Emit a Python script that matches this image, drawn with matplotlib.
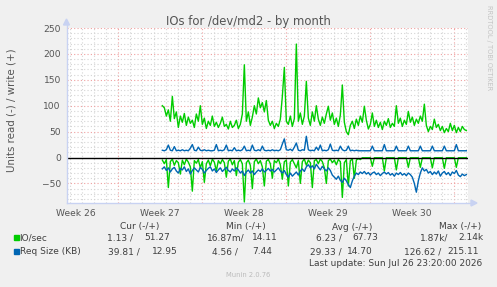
import numpy as np
import matplotlib.pyplot as plt

# time axis in days (day 0 = start of week 27), one sample every 4 hours
t_start = 3.67
t_step = 1 / 6

io_write = [100, 96, 80, 92, 70, 118, 75, 88, 58, 80, 68, 85, 62, 78, 66,
            72, 58, 84, 70, 100, 64, 76, 56, 70, 62, 80, 60, 68,
            58, 66, 78, 60, 64, 55, 70, 58, 62, 72, 56, 64, 84, 179,
            70, 88, 62, 78, 100, 84, 115, 96, 106, 88, 110, 72, 62, 70,
            56, 66, 60, 74, 118, 174, 70, 64, 80, 60, 75, 219, 70, 86,
            64, 80, 147, 76, 62, 88, 70, 100, 74, 62, 78, 66, 84, 99,
            72, 86, 64, 76, 60, 82, 140, 68, 50, 44, 62, 70, 56, 74,
            62, 80, 68, 99, 72, 55, 64, 86, 60, 72, 58, 68, 54, 70,
            62, 75, 58, 66, 60, 100, 66, 76, 60, 72, 64, 89, 68, 78,
            62, 74, 66, 80, 70, 103, 62, 50, 60, 54, 74, 58, 64, 52,
            60, 48, 56, 50, 66, 52, 62, 48, 58, 50, 60, 54, 52]

io_read = [-5, -12, -4, -58, -8, -3, -15, -6, -10, -32, -5, -14, -3, -9, -18,
           -65, -6, -11, -4, -20, -8, -48, -12, -5, -16, -3, -9, -26,
           -6, -12, -4, -10, -38, -7, -3, -14, -6, -35, -9, -4, -12, -86,
           -10, -5, -15, -60, -8, -3, -12, -6, -18, -55, -7, -4, -12, -40,
           -6, -10, -3, -14, -42, -8, -5, -55, -9, -4, -12, -20, -6, -50,
           -8, -3, -15, -5, -10, -58, -6, -4, -12, -3, -8, -20, -50, -6,
           -3, -10, -5, -14, -4, -8, -77, -10, -4, -55, -6, -3, -40, -5,
           -2, -4, -0.5, -0.5, -0.5, -0.5, -0.5, -17, -0.5, -0.5, -0.5, -0.5,
           -0.5, -26, -0.5, -0.5, -0.5, -0.5, -0.5, -24, -0.5, -0.5, -0.5, -0.5,
           -0.5, -19, -0.5, -0.5, -0.5, -0.5, -0.5, -19, -0.5, -0.5, -0.5, -0.5,
           -0.5, -20, -0.5, -0.5, -0.5, -0.5, -0.5, -21, -0.5, -0.5, -0.5, -0.5,
           -0.5, -19, -0.5, -0.5, -0.5, -0.5, -0.5]

req_write = [14, 13, 15, 24, 14, 13, 21, 13, 14, 13, 15, 13, 14, 13, 18,
             25, 14, 13, 20, 14, 13, 15, 13, 14, 13, 13, 14, 25,
             13, 14, 13, 15, 24, 13, 14, 13, 19, 13, 14, 13, 15, 22,
             13, 14, 13, 24, 14, 13, 15, 13, 22, 14, 13, 14, 13, 15,
             13, 14, 13, 15, 26, 36, 15, 14, 16, 13, 20, 28, 14, 13,
             15, 14, 41, 15, 13, 14, 13, 20, 14, 24, 13, 14, 13, 15,
             26, 14, 13, 14, 13, 22, 15, 13, 14, 22, 13, 14, 13, 14,
             13, 13, 13, 13, 13, 13, 13, 22, 13, 13, 13, 13,
             13, 25, 13, 13, 13, 13, 13, 22, 13, 13, 13, 13,
             13, 22, 13, 13, 13, 13, 13, 22, 13, 13, 13, 13,
             13, 22, 13, 13, 13, 13, 13, 22, 13, 13, 13, 13,
             13, 25, 13, 13, 13, 13, 13]

req_read = [-22, -18, -25, -20, -28, -22, -19, -26, -30, -21, -24, -18, -27, -22, -32,
            -25, -20, -24, -28, -19, -23, -30, -25, -21, -18, -26, -22, -29,
            -24, -20, -27, -23, -19, -25, -28, -22, -26, -20, -24, -30, -26, -35,
            -28, -24, -30, -26, -33, -28, -24, -27, -22, -28, -25, -21, -26, -23,
            -28, -24, -20, -26, -30, -25, -33, -38, -30, -36, -32, -28, -34, -26,
            -22, -27, -18, -14, -20, -16, -22, -13, -19, -24, -17, -22, -26, -20,
            -25, -34, -38, -42, -36, -44, -48, -40, -45, -52, -58, -45, -36, -30,
            -33, -28, -31, -27, -32, -29, -34, -30, -28, -33, -30, -35, -31, -28,
            -32, -29, -34, -31, -36, -30, -33, -29, -34, -31, -35, -30, -33, -38,
            -50, -67, -45, -30, -20, -26, -23, -30, -27, -33, -28, -32, -26, -36,
            -30, -27, -33, -29, -35, -28, -31, -25, -34, -37, -32, -35, -33]

week_pos = [-3.5, 3.5, 10.5, 17.5, 24.5]
week_labels = ['Week 26', 'Week 27', 'Week 28', 'Week 29', 'Week 30']

headers = ['Cur (-/+)', 'Min (-/+)', 'Avg (-/+)', 'Max (-/+)']
io_vals = ['1.13 /', '51.27', '16.87m/', '14.11', '6.23 /', '67.73', '1.87k/', '2.14k']
req_vals = ['39.81 /', '12.95', '4.56 /', '7.44', '29.33 /', '14.70', '126.62 /', '215.11']

green = '#00CC00'
blue = '#0066B3'
txt = '#555555'

W, H = 497, 287
fig = plt.figure(figsize=(W / 100, H / 100), dpi=100, facecolor='#F0F0F0')


def fx(x):
    return x / W


def fy(y):
    return 1 - y / H


left, right, top, bottom = 66.5, 468.3, 28, 203
ax = fig.add_axes([fx(left), fy(bottom), fx(right - left), (bottom - top) / H])
ax.set_facecolor('white')
x0 = (left - 118.3) / 12
x1 = (right - 118.3) / 12
ymax = 250
ymin = -(bottom - 157.5) / ((157.5 - top) / 250)
ax.set_xlim(x0, x1)
ax.set_ylim(ymin, ymax)
for s in ax.spines.values():
    s.set_visible(False)
ax.tick_params(length=0, labelsize=6.6, colors=txt, pad=4)

# grid
for d in range(-4, 30):
    if d % 7 == 0:
        ax.axvline(d, color='#EFA0A0', lw=0.8, ls=(0, (1, 2)), zorder=1)
    else:
        ax.axvline(d, color='#D4D4D4', lw=0.8, ls=(0, (1, 2)), zorder=1)
for v in range(-80, 251, 10):
    if v == 0:
        continue
    if v % 50 == 0:
        ax.axhline(v, color='#EFA0A0', lw=0.8, ls=(0, (1, 2)), zorder=1)
    else:
        ax.axhline(v, color='#D4D4D4', lw=0.8, ls=(0, (1, 2)), zorder=1)

t = t_start + np.arange(len(io_write)) * t_step
ax.plot(t, io_write, color=green, lw=1.0, zorder=3)
ax.plot(t, io_read, color=green, lw=1.0, zorder=3)
ax.plot(t, req_write, color=blue, lw=1.0, zorder=4)
ax.plot(t, req_read, color=blue, lw=1.0, zorder=4)
ax.axhline(0, color='black', lw=1.0, zorder=5)

ax.set_yticks(range(-50, 251, 50))
ax.set_xticks(week_pos)
ax.set_xticklabels(week_labels)

# axis arrows
acol = '#C8D2F2'
fig.add_artist(plt.Line2D([fx(left), fx(left)], [fy(bottom), fy(24)], color=acol, lw=1))
fig.add_artist(plt.Line2D([fx(left), fx(472)], [fy(bottom), fy(bottom)], color=acol, lw=1))
fig.add_artist(plt.Polygon([[fx(63.5), fy(25)], [fx(69.5), fy(25)], [fx(66.5), fy(19)]],
                           closed=True, color=acol))
fig.add_artist(plt.Polygon([[fx(471), fy(200)], [fx(471), fy(206)], [fx(477), fy(203)]],
                           closed=True, color=acol))

fig.text(fx(248), fy(21), 'IOs for /dev/md2 - by month', ha='center', va='center',
         fontsize=8.4, color=txt)
fig.text(fx(12), fy(110), 'Units read (-) / write (+)', rotation=90, ha='center',
         va='center', fontsize=7.4, color=txt)
fig.text(fx(489), fy(5), 'RRDTOOL / TOBI OETIKER', rotation=270, ha='center',
         va='top', fontsize=4.8, color='#C4C4C4')

# legend
lcol = '#404040'
for xc, h in zip([140, 246, 352, 460], headers):
    fig.text(fx(xc), fy(227), h, ha='center', va='center', fontsize=6.5, color=lcol)

rights = [133, 170, 245, 278, 342, 378, 448, 483]
rights2 = [140, 178, 238, 272, 342, 373, 441, 479]
fig.add_artist(plt.Rectangle((fx(13.5), fy(240)), 5 / W, 5 / H, color=green))
fig.add_artist(plt.Rectangle((fx(13.5), fy(254)), 5 / W, 5 / H, color=blue))
fig.text(fx(19.5), fy(238), 'IO/sec', ha='left', va='center', fontsize=6.5, color=lcol)
fig.text(fx(19.5), fy(252), 'Req Size (KB)', ha='left', va='center', fontsize=6.5, color=lcol)
for r, s in zip(rights, io_vals):
    fig.text(fx(r), fy(238), s, ha='right', va='center', fontsize=6.5, color=lcol)
for r, s in zip(rights2, req_vals):
    fig.text(fx(r), fy(252), s, ha='right', va='center', fontsize=6.5, color=lcol)
fig.text(fx(482), fy(263), 'Last update: Sun Jul 26 23:20:00 2026', ha='right',
         va='center', fontsize=6.5, color=lcol)
fig.text(fx(248), fy(275), 'Munin 2.0.76', ha='center', va='center', fontsize=4.9,
         color='#BBBBBB')

fig.savefig('out.png', dpi=100, facecolor=fig.get_facecolor())
